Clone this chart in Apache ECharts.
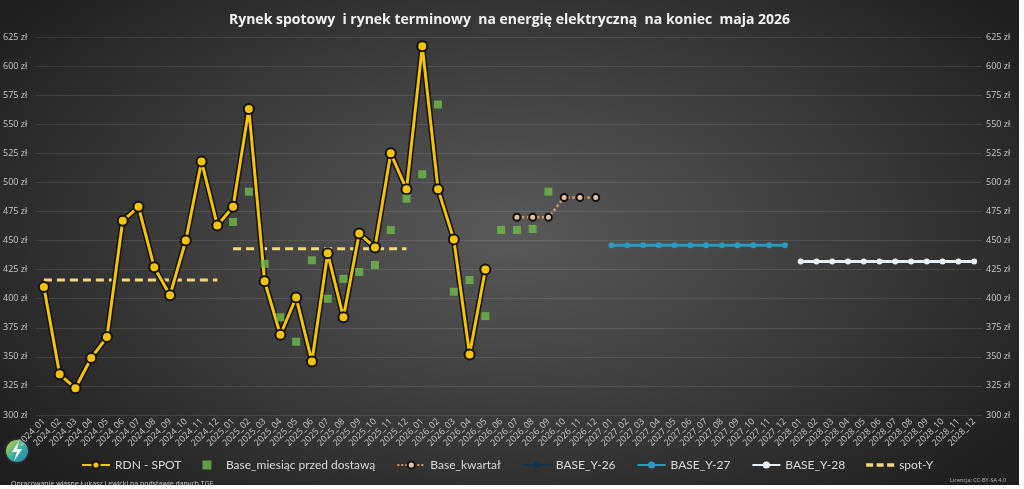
<!DOCTYPE html>
<html lang="pl">
<head>
    <meta charset="UTF-8">
    <title>Rynek spotowy i rynek terminowy</title>
    <script src="https://cdn.jsdelivr.net/npm/echarts@6/dist/echarts.min.js"></script>
    <style>
        body, html {
            margin: 0;
            padding: 0;
            width: 100%;
            height: 100%;
            overflow: hidden;
            background-color: #fff;
        }
        #chart {
            width: 1019px;
            height: 485px;
            background: radial-gradient(ellipse 62% 72% at 50% 48%, #595959 0%, #404040 45%, #1f1f1f 100%);
        }
    </style>
</head>
<body>
    <div id="chart"></div>
    <script>
        // kategorie: 2024_01 ... 2028_12
        var years = ['2024', '2025', '2026', '2027', '2028'];
        var months = ['01', '02', '03', '04', '05', '06', '07', '08', '09', '10', '11', '12'];
        var categories = [];
        years.forEach(function (y) {
            months.forEach(function (m) { categories.push(y + '_' + m); });
        });

        // RDN - SPOT od 2024_01 do 2026_05
        var spot = [410, 335, 323, 349, 367, 467, 479, 427, 403, 450, 518, 463,
                    479, 563, 415, 369, 401, 346, 439, 384, 456, 444, 525, 494,
                    617, 494, 451, 352, 425];
        // Base_miesiąc przed dostawą od 2025_01 do 2026_09
        var baseMonth = [466, 492, 430, 384, 363, 433, 400, 417, 423, 429, 459, 486,
                         507, 567, 406, 416, 385, 459, 459, 460, 492];
        // Base_kwartał od 2026_07 do 2026_12
        var baseQuarter = [470, 470, 470, 487, 487, 487];
        // BASE_Y-26 - brak punktów na wykresie
        var baseY26 = [];
        // BASE_Y-27 (2027_01 - 2027_12), BASE_Y-28 (2028_01 - 2028_12)
        var baseY27 = [446, 446, 446, 446, 446, 446, 446, 446, 446, 446, 446, 446];
        var baseY28 = [432, 432, 432, 432, 432, 432, 432, 432, 432, 432, 432, 432];
        // spot-Y: średnia roczna 2024 i 2025
        var spotY2024 = [416, 416, 416, 416, 416, 416, 416, 416, 416, 416, 416, 416];
        var spotY2025 = [443, 443, 443, 443, 443, 443, 443, 443, 443, 443, 443, 443];

        // wstawia wartości od danej kategorii, reszta null
        function place(values, startCat) {
            var out = categories.map(function () { return null; });
            var s = categories.indexOf(startCat);
            values.forEach(function (v, i) { out[s + i] = v; });
            return out;
        }

        var labelColor = '#c8c8c8';
        var chart = echarts.init(document.getElementById('chart'));

        var option = {
            backgroundColor: 'transparent',
            animation: false,
            title: [{
                text: 'Rynek spotowy  i rynek terminowy  na energię elektryczną  na koniec  maja 2026',
                left: 'center',
                top: 8,
                textStyle: { color: '#f2f2f2', fontSize: 14, fontWeight: 'bold', fontFamily: 'Open Sans' }
            }, {
                text: 'Opracowanie własne Łukasz Lewicki na podstawie danych TGE',
                left: 6,
                top: 475,
                textStyle: { color: '#d0d0d0', fontSize: 7, fontWeight: 'normal', fontFamily: 'Open Sans' }
            }, {
                text: 'Licencja: CC-BY-SA 4.0',
                left: 945,
                top: 472,
                textStyle: { color: '#bbbbbb', fontSize: 5.5, fontWeight: 'normal', fontFamily: 'Open Sans' }
            }],
            legend: {
                left: 76,
                top: 454,
                itemGap: 21,
                itemWidth: 28,
                itemHeight: 9,
                textStyle: { color: '#d9d9d9', fontSize: 12, fontFamily: 'Lato' },
                data: [
                    'RDN - SPOT',
                    { name: 'Base_miesiąc przed dostawą', icon: 'path://M0,0L10,0L10,10L0,10Z' },
                    'Base_kwartał', 'BASE_Y-26', 'BASE_Y-27', 'BASE_Y-28',
                    { name: 'spot-Y', icon: 'path://M0,0h6v3h-6zM9,0h6v3h-6zM18,0h6v3h-6z' }
                ]
            },
            grid: { left: 35, right: 37, top: 37, bottom: 70 },
            xAxis: {
                type: 'category',
                data: categories,
                boundaryGap: true,
                axisLine: { show: false },
                axisTick: { show: false },
                axisLabel: { color: labelColor, fontSize: 9, rotate: 45, interval: 0, margin: 5, fontFamily: 'Open Sans' }
            },
            yAxis: [{
                type: 'value',
                min: 300, max: 625, interval: 25,
                position: 'left',
                axisLine: { show: false },
                axisTick: { show: false },
                splitLine: { lineStyle: { color: 'rgba(255,255,255,0.1)', width: 1 } },
                axisLabel: { color: labelColor, fontSize: 9, align: 'left', margin: 33, formatter: '{value} zł', fontFamily: 'Open Sans' }
            }, {
                type: 'value',
                min: 300, max: 625, interval: 25,
                position: 'right',
                axisLine: { show: false },
                axisTick: { show: false },
                splitLine: { show: false },
                axisLabel: { color: labelColor, fontSize: 9, margin: 4, formatter: '{value} zł', fontFamily: 'Open Sans' }
            }],
            graphic: [{
                type: 'circle',
                shape: { cx: 17, cy: 451, r: 12 },
                style: {
                    fill: new echarts.graphic.LinearGradient(0, 0, 1, 1, [
                        { offset: 0, color: '#f2d21b' },
                        { offset: 0.5, color: '#3cb4a0' },
                        { offset: 1, color: '#1f6fc0' }
                    ]),
                    stroke: '#2a2a2a', lineWidth: 2
                }
            }, {
                type: 'polygon',
                shape: { points: [[19, 441], [12, 452], [17, 452], [14, 461], [22, 449], [17, 449]] },
                style: { fill: '#ffffff' }
            }],
            series: [{
                name: 'spotOutline',
                type: 'line',
                data: place(spot, '2024_01'),
                symbol: 'none',
                silent: true,
                lineStyle: { color: '#111', width: 6 },
                z: 2
            }, {
                name: 'RDN - SPOT',
                type: 'line',
                data: place(spot, '2024_01'),
                symbol: 'circle',
                symbolSize: 10,
                lineStyle: { color: '#f5c400', width: 3 },
                itemStyle: { color: '#f5c400', borderColor: '#111', borderWidth: 2 },
                z: 3
            }, {
                name: 'Base_miesiąc przed dostawą',
                type: 'scatter',
                data: place(baseMonth, '2025_01'),
                symbol: 'rect',
                symbolSize: 8,
                itemStyle: { color: '#6fba48' },
                z: 4
            }, {
                name: 'Base_kwartał',
                type: 'line',
                data: place(baseQuarter, '2026_07'),
                symbol: 'circle',
                symbolSize: 7,
                lineStyle: { color: '#c99a72', width: 2.5, type: 'dotted' },
                itemStyle: { color: '#e6c29a', borderColor: '#111', borderWidth: 2 },
                z: 3
            }, {
                name: 'BASE_Y-26',
                type: 'line',
                data: place(baseY26, '2026_01'),
                symbol: 'circle',
                symbolSize: 6,
                lineStyle: { color: '#17324d', width: 3 },
                itemStyle: { color: '#17324d' }
            }, {
                name: 'BASE_Y-27',
                type: 'line',
                data: place(baseY27, '2027_01'),
                symbol: 'circle',
                symbolSize: 6,
                lineStyle: { color: '#2a9bbd', width: 3 },
                itemStyle: { color: '#2a9bbd' }
            }, {
                name: 'BASE_Y-28',
                type: 'line',
                data: place(baseY28, '2028_01'),
                symbol: 'circle',
                symbolSize: 6,
                lineStyle: { color: '#e8f0f8', width: 3 },
                itemStyle: { color: '#e8f0f8' }
            }, {
                name: 'spot-Y',
                type: 'line',
                data: place(spotY2024, '2024_01'),
                symbol: 'none',
                lineStyle: { color: '#f3d878', width: 3, type: [8, 5] },
                itemStyle: { color: '#f3d878' },
                z: 1
            }, {
                name: 'spot-Y',
                type: 'line',
                data: place(spotY2025, '2025_01'),
                symbol: 'none',
                lineStyle: { color: '#f3d878', width: 3, type: [8, 5] },
                itemStyle: { color: '#f3d878' },
                z: 1
            }]
        };

        chart.setOption(option);
    </script>
</body>
</html>
